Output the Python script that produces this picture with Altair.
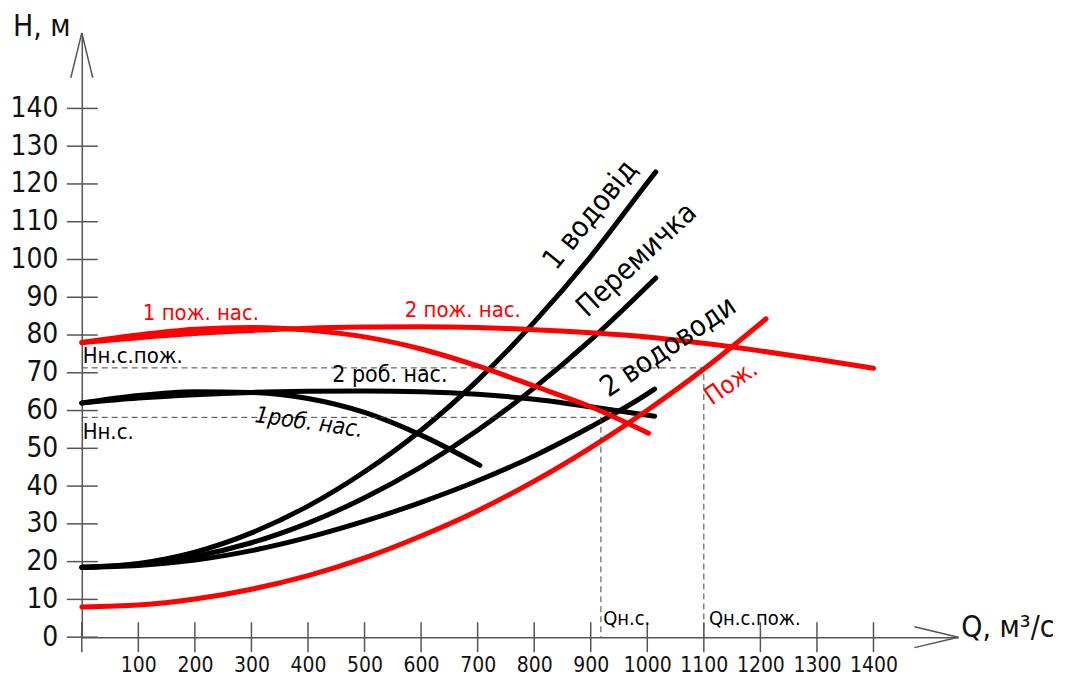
import altair as alt
import pandas as pd

FONT = "Liberation Sans Narrow, DejaVu Sans Condensed, Roboto Condensed, Roboto, sans-serif"

# ---------------- data ----------------
# system curves
Q_1VOD = [0, 100, 200, 300, 400, 500, 600, 700, 800, 900, 1000, 1015]
H_1VOD = [18.5, 19.5, 22.5, 27.6, 34.7, 43.8, 54.8, 68, 83.4, 100.8, 120.3, 123.2]

Q_PEREM = [0, 100, 200, 300, 400, 500, 600, 700, 800, 900, 1000, 1015]
H_PEREM = [18.5, 19.3, 21.4, 25, 30.2, 36.9, 45.1, 54.8, 66, 78.7, 92.9, 95.1]

Q_2VOD = [0, 100, 200, 300, 400, 500, 600, 700, 800, 900, 1000, 1013]
H_2VOD = [18.5, 19, 20.4, 22.9, 26.4, 30.7, 35.7, 41.4, 48, 55.7, 64.4, 65.7]

Q_POZH = [0, 100, 200, 300, 400, 500, 600, 700, 800, 900, 1000, 1100, 1210]
H_POZH = [8, 8.5, 10.1, 12.7, 16.3, 21, 26.8, 33.5, 41.3, 50.2, 60.1, 71, 84.3]

# pump curves
Q_1ROB = [0, 100, 200, 300, 400, 500, 600, 704]
H_1ROB = [62, 64, 65, 64.8, 63.2, 59.5, 53.5, 45.5]

Q_2ROB = [0, 100, 200, 300, 400, 500, 600, 700, 800, 900, 1013]
H_2ROB = [62, 63.3, 64.2, 64.8, 65.1, 65.2, 65, 64.3, 63, 61, 58.5]

Q_1POZH = [0, 100, 200, 300, 400, 500, 600, 700, 800, 900, 1002]
H_1POZH = [78, 80, 81.5, 82, 81.3, 79.5, 76.3, 71.8, 66.5, 61, 54]

Q_2POZH = [0, 100, 200, 300, 400, 500, 600, 700, 800, 900, 1000, 1100, 1200, 1300, 1400]
H_2POZH = [78, 79.3, 80.4, 81.2, 81.8, 82.1, 82.2, 82, 81.4, 80.6, 79.5, 77.8, 75.8, 73.6, 71.2]

# operating points (dashed guides)
Q_NS, H_NS = 918, 58.2
Q_NSP, H_NSP = 1100, 71.3

X_TICKS = [0, 100, 200, 300, 400, 500, 600, 700, 800, 900, 1000, 1100, 1200, 1300, 1400]
X_LABELS = [100, 200, 300, 400, 500, 600, 700, 800, 900, 1000, 1100, 1200, 1300, 1400]
Y_TICKS = [0, 10, 20, 30, 40, 50, 60, 70, 80, 90, 100, 110, 120, 130, 140]

BLACK = "#000000"
RED = "#ff0000"

series = [
    ("1 водовід", Q_1VOD, H_1VOD, BLACK),
    ("Перемичка", Q_PEREM, H_PEREM, BLACK),
    ("2 водоводи", Q_2VOD, H_2VOD, BLACK),
    ("1 роб", Q_1ROB, H_1ROB, BLACK),
    ("2 роб", Q_2ROB, H_2ROB, BLACK),
    ("Пож", Q_POZH, H_POZH, RED),
    ("1 пож", Q_1POZH, H_1POZH, RED),
    ("2 пож", Q_2POZH, H_2POZH, RED),
]
rows = []
for name, qs, hs, col in series:
    for i, (q, h) in enumerate(zip(qs, hs)):
        rows.append({"curve": name, "Q": q, "H": h, "i": i, "col": col})
curves_df = pd.DataFrame(rows)

guides_df = pd.DataFrame([
    {"g": "ns", "i": 0, "Q": 0, "H": H_NS},
    {"g": "ns", "i": 1, "Q": Q_NS, "H": H_NS},
    {"g": "ns", "i": 2, "Q": Q_NS, "H": 0},
    {"g": "nsp", "i": 0, "Q": 0, "H": H_NSP},
    {"g": "nsp", "i": 1, "Q": Q_NSP, "H": H_NSP},
    {"g": "nsp", "i": 2, "Q": Q_NSP, "H": 0},
])

# ---------------- layout ----------------
W, H = 879, 606
x_scale = alt.Scale(domain=[0, 1550], nice=False, zero=False)
y_scale = alt.Scale(domain=[0, 160], nice=False, zero=False)

x_axis = alt.Axis(values=X_LABELS, ticks=False, grid=False, title=None, format="d",
                  labelFontSize=21, labelPadding=17, labelFont=FONT,
                  labelColor="#111", domainColor="#555", domainWidth=1.5,
                  labelFlush=False, labelOverlap=False)
y_axis = alt.Axis(values=Y_TICKS, ticks=False, grid=False, title=None, format="d",
                  labelFontSize=28, labelPadding=24, labelFont=FONT,
                  labelColor="#111", domainColor="#555", domainWidth=1.5,
                  labelFlush=False, labelOverlap=False)

X = alt.X("Q:Q", scale=x_scale, axis=x_axis)
Y = alt.Y("H:Q", scale=y_scale, axis=y_axis)

curves = alt.Chart(curves_df).mark_line(
    strokeWidth=5, interpolate="monotone", strokeCap="round", strokeJoin="round"
).encode(x=X, y=Y, color=alt.Color("col:N", scale=None), detail="curve:N", order="i:Q")

guides = alt.Chart(guides_df).mark_line(
    strokeWidth=1, color="#444", strokeDash=[6, 4]
).encode(x=X, y=Y, detail="g:N", order="i:Q")

xt = alt.Chart(pd.DataFrame({"Q": X_TICKS})).mark_rule(color="#555", strokeWidth=1.5).encode(
    x=X, y=alt.value(H - 15), y2=alt.value(H + 15))
yt = alt.Chart(pd.DataFrame({"H": Y_TICKS})).mark_rule(color="#555", strokeWidth=1.5).encode(
    y=Y, x=alt.value(-15), x2=alt.value(16))

def arrow(x1, y1, x2, y2):
    return alt.Chart(pd.DataFrame({"a": [0]})).mark_rule(color="#555", strokeWidth=1.5).encode(
        x=alt.value(x1), y=alt.value(y1), x2=alt.value(x2), y2=alt.value(y2))

arrows = [
    arrow(W, H, W - 44, H - 10.5),
    arrow(W, H, W - 44, H + 10.5),
    arrow(0, 0, -11, 45),
    arrow(0, 0, 11, 45),
]

annotations = [
    # text, Q, H, color, angle, size, align, style
    ("1 пож. нас.", 108, 85.9, RED, 0, 22, "left", "normal"),
    ("2 пож. нас.", 571, 86.7, RED, 0, 22, "left", "normal"),
    ("Нн.с.пож.", 1.5, 74.5, BLACK, 0, 22, "left", "normal"),
    ("Нн.с.", 1.5, 54.2, BLACK, 0, 22, "left", "normal"),
    ("2 роб. нас.", 443, 69.3, BLACK, 0, 23, "left", "normal"),
    ("1роб. нас.", 402, 56.8, BLACK, 8, 23, "center", "italic"),
    ("1 водовід", 899, 111.8, BLACK, 309, 29, "center", "normal"),
    ("Перемичка", 981, 99.9, BLACK, 317, 29, "center", "normal"),
    ("2 водоводи", 1037, 76.9, BLACK, 326, 29, "center", "normal"),
    ("Пож.", 1148, 67.4, RED, 325, 25, "center", "normal"),
    ("Qн.с.", 922, 4.7, BLACK, 0, 20, "left", "normal"),
    ("Qн.с.пож.", 1109, 4.7, BLACK, 0, 20, "left", "normal"),
]
texts = []
for t, q, h, col, ang, size, al, st in annotations:
    texts.append(
        alt.Chart(pd.DataFrame({"Q": [q], "H": [h], "t": [t]})).mark_text(
            color=col, angle=ang, fontSize=size, align=al, baseline="middle",
            font=FONT, fontStyle=st
        ).encode(x=X, y=Y, text="t:N")
    )

def free_text(t, x, y, size, al):
    return alt.Chart(pd.DataFrame({"t": [t]})).mark_text(
        fontSize=size, align=al, baseline="alphabetic", font=FONT, color="#111"
    ).encode(x=alt.value(x), y=alt.value(y), text="t:N")

titles = [
    free_text("H, м", -69, 3, 30, "left"),
    free_text("Q, м³/с", 882, H, 30, "left"),
]

chart = alt.layer(curves, guides, xt, yt, *arrows, *texts, *titles).properties(
    width=W, height=H,
    autosize=alt.AutoSizeParams(type="none"),
    padding={"left": 74, "top": 24, "right": 110, "bottom": 40},
).configure_view(strokeWidth=0)

chart.save("out.html", embed_options={"renderer": "svg", "actions": False})
